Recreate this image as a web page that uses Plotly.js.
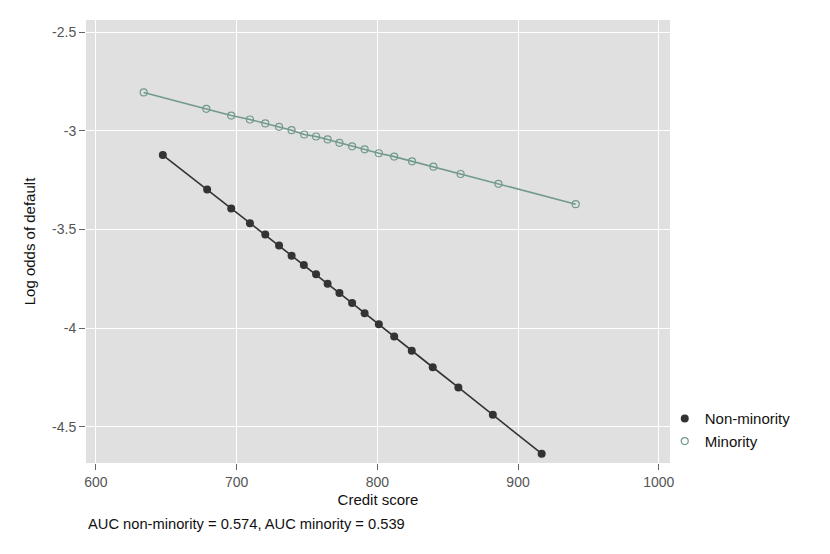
<!DOCTYPE html>
<html>
<head>
<meta charset="utf-8">
<script src="https://cdn.plot.ly/plotly-3.0.1.min.js"></script>
<style>
  body { margin: 0; background: #fff; }
  #myDiv { width: 830px; height: 554px; }
</style>
</head>
<body>
<div id="myDiv"></div>
<script>
// credit score / log odds
var nonMinScore = [647.6, 679.1, 696.2, 709.5, 720.4, 730.2, 739.1, 747.8, 756.5, 764.7,
                   773.1, 782.1, 791.0, 801.1, 812.0, 824.5, 839.4, 857.6, 882.1, 916.8];
var nonMinOdds = [-3.123, -3.298, -3.394, -3.468, -3.525, -3.581, -3.633, -3.680, -3.727, -3.775,
                  -3.822, -3.873, -3.924, -3.980, -4.042, -4.114, -4.198, -4.300, -4.439, -4.636];

var minScore = [634.0, 678.5, 696.2, 709.5, 720.4, 730.2, 739.1, 748.1, 756.5, 764.7,
                773.1, 782.1, 791.0, 801.1, 812.0, 824.7, 839.9, 859.2, 886.1, 941.0];
var minOdds = [-2.806, -2.889, -2.923, -2.943, -2.963, -2.980, -2.997, -3.019, -3.029, -3.044,
               -3.061, -3.079, -3.094, -3.114, -3.131, -3.155, -3.182, -3.219, -3.269, -3.372];

var xTicks = [600, 700, 800, 900, 1000];
var yTicks = [-2.5, -3, -3.5, -4, -4.5];
var yLabels = ['-2.5', '-3', '-3.5', '-4', '-4.5'];
var aucText = 'AUC non-minority = 0.574, AUC minority = 0.539';

var darkCol = '#333333';
var greenCol = '#729a8b';

// lines (no legend), then points (legend shows the point only)
var line1 = {
  x: nonMinScore, y: nonMinOdds, type: 'scatter', mode: 'lines',
  line: {color: darkCol, width: 1.6}, showlegend: false, hoverinfo: 'skip'
};
var line2 = {
  x: minScore, y: minOdds, type: 'scatter', mode: 'lines',
  line: {color: greenCol, width: 1.6}, showlegend: false, hoverinfo: 'skip'
};
var pts1 = {
  x: nonMinScore, y: nonMinOdds, name: 'Non-minority', type: 'scatter', mode: 'markers',
  marker: {color: darkCol, size: 8, symbol: 'circle'}
};
var pts2 = {
  x: minScore, y: minOdds, name: 'Minority', type: 'scatter', mode: 'markers',
  marker: {color: greenCol, size: 7, symbol: 'circle-open', line: {width: 1.2}}
};

var layout = {
  width: 830,
  height: 554,
  margin: {l: 86, r: 160, t: 20, b: 91},
  paper_bgcolor: '#ffffff',
  plot_bgcolor: '#e0e0e0',
  font: {family: 'Liberation Sans, Arial, sans-serif', size: 14, color: '#111'},
  showlegend: true,
  legend: {
    x: 0.991, y: 0.075, xanchor: 'left', yanchor: 'middle',
    font: {size: 15, color: '#111'},
    bgcolor: 'rgba(0,0,0,0)',
    itemwidth: 30
  },
  xaxis: {
    range: [593, 1008],
    tickvals: xTicks,
    ticks: 'outside',
    ticklen: 6,
    tickwidth: 1,
    tickcolor: '#666',
    tickfont: {size: 14, color: '#555'},
    showgrid: true,
    gridcolor: '#ffffff',
    gridwidth: 1.3,
    zeroline: false,
    showline: false,
    title: {text: 'Credit score', font: {size: 15, color: '#111'}, standoff: 5}
  },
  yaxis: {
    range: [-4.683, -2.439],
    tickvals: yTicks,
    ticktext: yLabels,
    ticks: 'outside',
    ticklen: 6,
    tickwidth: 1,
    tickcolor: '#666',
    tickfont: {size: 14, color: '#555'},
    showgrid: true,
    gridcolor: '#ffffff',
    gridwidth: 1.3,
    zeroline: false,
    showline: false,
    title: {text: 'Log odds of default', font: {size: 15, color: '#111'}, standoff: 12}
  },
  annotations: [{
    text: aucText,
    xref: 'paper', yref: 'paper',
    x: 0.0, y: -0.116,
    xanchor: 'left', yanchor: 'top',
    showarrow: false,
    font: {size: 14.7, color: '#111'}
  }]
};

Plotly.newPlot('myDiv', [line1, line2, pts1, pts2], layout, {displayModeBar: false});
</script>
</body>
</html>
